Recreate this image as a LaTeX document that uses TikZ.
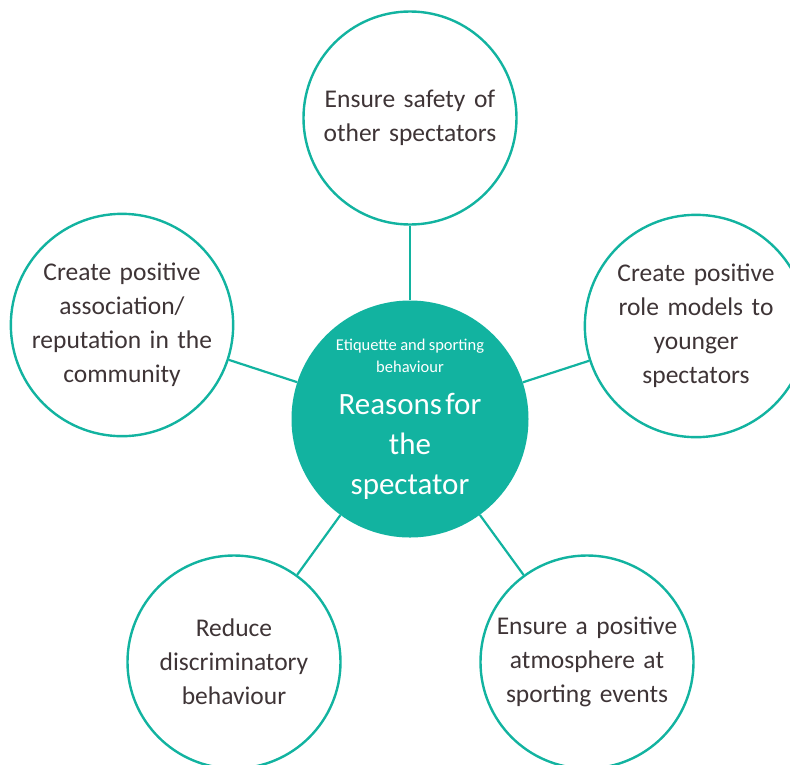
\documentclass[tikz,border=0pt]{standalone}
\usepackage{fontspec}
\setmainfont{Carlito}
\usetikzlibrary{positioning}
\definecolor{tealmain}{RGB}{18,179,160}
\definecolor{inkbrown}{RGB}{62,52,54}

\begin{document}
\begin{tikzpicture}[x=1pt,y=-1pt,
    reason/.style={circle, draw=tealmain, line width=2.4pt, minimum size=213pt,
      inner sep=0pt, text width=185pt, align=center, text=inkbrown,
      font=\fontsize{25.5}{34}\selectfont},
    hub/.style={circle, fill=tealmain, minimum size=237pt, inner sep=-16pt,
      text width=180pt, align=center, text=white}]
	     \useasboundingbox (0,0) rectangle (790,764);
	     \node[hub] (r) at (410,419) {\fontsize{16.5}{22}\selectfont Etiquette and sporting\\behaviour\par
	        \vspace{2pt}\fontsize{31}{40}\selectfont Reasons for\\the\\spectator\par};
	     \node[reason] (safety) at (410,118) {Ensure safety of\\other spectators};
	     \node[reason] (assoc) at (122,325) {Create positive\\association/\\reputation in the\\community};
	     \node[reason] (role) at (696,326) {Create positive\\role models to\\younger\\spectators};
	     \node[reason] (discrim) at (234,662) {Reduce\\discriminatory\\behaviour};
	     \node[reason] (atmos) at (587,662) {Ensure a positive\\atmosphere at\\sporting events};

	     \path[tealmain, line width=2.2pt]
	     	(r) edge (safety)
		(r) edge (assoc)
		(r) edge (role)
		(r) edge (discrim)
		(r) edge (atmos)
	      ;
	   \end{tikzpicture}
\end{document}
